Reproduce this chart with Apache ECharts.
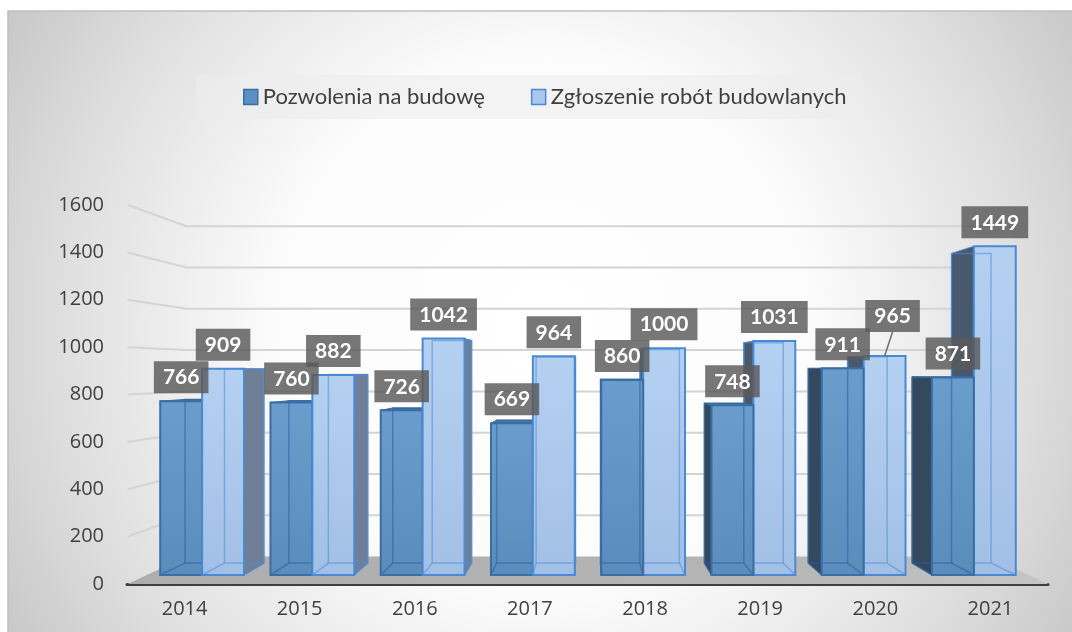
<!DOCTYPE html>
<html>
<head>
<meta charset="utf-8">
<script src="https://cdn.jsdelivr.net/npm/echarts@6/dist/echarts.min.js"></script>
<style>
  html, body { margin: 0; padding: 0; background: #fff; }
  #chart { width: 1072px; height: 632px; }
</style>
</head>
<body>
<div id="chart"></div>
<script>
var years = ['2014', '2015', '2016', '2017', '2018', '2019', '2020', '2021']
var pozwolenia = [766, 760, 726, 669, 860, 748, 911, 871]
var zgloszenia = [909, 882, 1042, 964, 1000, 1031, 965, 1449]
var yTicks = [0, 200, 400, 600, 800, 1000, 1200, 1400, 1600]
var seriesNames = ['Pozwolenia na budowę', 'Zgłoszenie robót budowlanych']

// fake 3d: everything is projected towards a vanishing point
var FRONT = 1.044 // plane of the axis labels
var DEPTH = 0.942 // back face of the bars
var WALL = 0.91 // back wall with gridlines
var BAR_RATIO = 0.38
var LABEL_GAP = 8
// label moved out of the way (series index -> data index -> [dx, dy])
var LABEL_NUDGE = { 1: { 6: [8, -16] } }

var PALETTE = [
  {
    front: ['#6a9ccc', '#5a8cbc'],
    edge: '#3a6ea5',
    inner: 'rgba(45, 95, 155, 0.55)',
    sideR: '#5a7291',
    sideL: '#34485e',
    top: '#4576a6'
  },
  {
    front: ['#b4d1f2', '#a2c0e5'],
    edge: '#4a8ad4',
    inner: 'rgba(80, 140, 215, 0.55)',
    sideR: '#6e7f96',
    sideL: '#48596e',
    top: '#88abd6'
  }
]

function vanish(cs) {
  return [cs.x + cs.width / 2, cs.y + cs.height * 0.435]
}

function project(p, vp, s) {
  return [vp[0] + (p[0] - vp[0]) * s, vp[1] + (p[1] - vp[1]) * s]
}

function renderGrid(params, api) {
  var cs = params.coordSys
  var vp = vanish(cs)
  var v = api.value(1)
  var y = api.coord([0, v])[1]
  var L = [cs.x, y]
  var R = [cs.x + cs.width, y]
  var fl = project(L, vp, FRONT)
  var bl = project(L, vp, WALL)
  var br = project(R, vp, WALL)
  if (v === 0) {
    var fr = project(R, vp, FRONT)
    return {
      type: 'polygon',
      shape: { points: [fl, bl, br, fr] },
      style: {
        fill: new echarts.graphic.LinearGradient(0, 0, 1, 0, [
          { offset: 0, color: '#adadad' },
          { offset: 0.7, color: '#b5b5b5' },
          { offset: 1, color: '#c6c6c6' }
        ])
      }
    }
  }
  return {
    type: 'polyline',
    shape: { points: [fl, bl, br] },
    style: { stroke: '#d4d4d4', lineWidth: 2, fill: null }
  }
}

function makeBarRenderer(k) {
  var pal = PALETTE[k]
  return function(params, api) {
    var cs = params.coordSys
    var vp = vanish(cs)
    var i = api.value(0)
    var v = api.value(1)
    var top = api.coord([i, v])
    var base = api.coord([i, 0])
    var w = api.size([1, 0])[0] * BAR_RATIO
    var x0 = k === 0 ? top[0] - w : top[0]
    var x1 = x0 + w
    var yt = top[1]
    var yb = base[1]
    var f = { tl: [x0, yt], tr: [x1, yt], br: [x1, yb], bl: [x0, yb] }
    var b = {
      tl: project(f.tl, vp, DEPTH),
      tr: project(f.tr, vp, DEPTH),
      br: project(f.br, vp, DEPTH),
      bl: project(f.bl, vp, DEPTH)
    }
    // nearer bar of the pair is drawn on top
    var zb = (top[0] < vp[0]) === (k === 1) ? 10 : 0
    var children = []

    if (x1 < vp[0]) {
      children.push({
        type: 'polygon',
        shape: { points: [f.tr, b.tr, b.br, f.br] },
        style: { fill: pal.sideR, stroke: pal.edge, lineWidth: 1 },
        z2: zb
      })
    }
    if (x0 > vp[0]) {
      children.push({
        type: 'polygon',
        shape: { points: [f.tl, b.tl, b.bl, f.bl] },
        style: { fill: pal.sideL, stroke: pal.edge, lineWidth: 1 },
        z2: zb
      })
    }
    if (yt > vp[1]) {
      children.push({
        type: 'polygon',
        shape: { points: [f.tl, f.tr, b.tr, b.tl] },
        style: { fill: pal.top, stroke: pal.edge, lineWidth: 1 },
        z2: zb + 1
      })
    }
    children.push({
      type: 'rect',
      shape: { x: x0, y: yt, width: w, height: yb - yt },
      style: {
        fill: new echarts.graphic.LinearGradient(0, 0, 0, 1, [
          { offset: 0, color: pal.front[0] },
          { offset: 1, color: pal.front[1] }
        ])
      },
      z2: zb + 2
    })
    // hidden edges seen through the glassy bar
    children.push({
      type: 'polygon',
      shape: { points: [b.tl, b.tr, b.br, b.bl] },
      style: { fill: null, stroke: pal.inner, lineWidth: 1.5 },
      z2: zb + 3
    })
    children.push({
      type: 'polyline',
      shape: { points: [f.bl, b.bl] },
      style: { fill: null, stroke: pal.inner, lineWidth: 1.5 },
      z2: zb + 3
    })
    children.push({
      type: 'polyline',
      shape: { points: [f.br, b.br] },
      style: { fill: null, stroke: pal.inner, lineWidth: 1.5 },
      z2: zb + 3
    })
    children.push({
      type: 'rect',
      shape: { x: x0, y: yt, width: w, height: yb - yt },
      style: { fill: null, stroke: pal.edge, lineWidth: 2 },
      z2: zb + 4
    })

    var nudge = (LABEL_NUDGE[k] && LABEL_NUDGE[k][params.dataIndex]) || [0, 0]
    var cx = (x0 + x1) / 2
    var ly = yt - LABEL_GAP + nudge[1]
    if (nudge[0] || nudge[1]) {
      children.push({
        type: 'line',
        shape: { x1: cx + nudge[0], y1: ly, x2: cx, y2: yt },
        style: { stroke: '#6f6f6f', lineWidth: 1.5 },
        z2: 99
      })
    }
    children.push({
      type: 'text',
      x: cx + nudge[0],
      y: ly,
      style: {
        text: String(v),
        fill: '#ffffff',
        fontSize: 21,
        fontWeight: 'bold',
        fontFamily: 'Lato',
        align: 'center',
        verticalAlign: 'bottom',
        backgroundColor: 'rgba(89, 89, 89, 0.82)',
        padding: [6, 9, 5, 9]
      },
      z2: 100 + (1 - k)
    })
    return { type: 'group', children: children }
  }
}

var chart = echarts.init(document.getElementById('chart'))

chart.setOption({
  backgroundColor: '#ffffff',
  animation: false,
  graphic: [
    {
      type: 'rect',
      z: -10,
      silent: true,
      shape: { x: 8, y: 11, width: 1070, height: 630 },
      style: {
        fill: new echarts.graphic.RadialGradient(0.5, 0.5, 1, [
          { offset: 0, color: '#ffffff' },
          { offset: 0.42, color: '#fcfcfc' },
          { offset: 0.75, color: '#e0e0e0' },
          { offset: 1, color: '#c6c6c6' }
        ]),
        stroke: '#c0c0c0',
        lineWidth: 1.5
      }
    }
  ],
  legend: {
    data: [
      {
        name: seriesNames[0],
        itemStyle: { color: '#5d90c2', borderColor: '#3a6ea5', borderWidth: 1.5 }
      },
      {
        name: seriesNames[1],
        itemStyle: { color: '#a9c8ec', borderColor: '#4a8ad4', borderWidth: 1.5 }
      }
    ],
    left: 196,
    top: 75,
    icon: 'rect',
    itemWidth: 14,
    itemHeight: 15,
    itemGap: 46,
    padding: [11, 15, 11, 47],
    backgroundColor: 'rgba(236, 236, 236, 0.6)',
    textStyle: { fontFamily: 'Lato', fontSize: 22, color: '#404040' }
  },
  grid: [
    { left: 127, right: 24, top: 205, bottom: 48, outerBoundsMode: 'none' },
    { left: 147, right: 43, top: 212, bottom: 57, outerBoundsMode: 'none' }
  ],
  xAxis: [
    {
      type: 'category',
      gridIndex: 0,
      data: years,
      axisTick: { show: false },
      axisLine: { lineStyle: { color: '#3f3f3f', width: 3 } },
      axisLabel: { color: '#404040', fontFamily: 'Open Sans', fontSize: 20, margin: 15 }
    },
    {
      type: 'category',
      gridIndex: 1,
      data: years,
      show: false
    }
  ],
  yAxis: [
    {
      type: 'value',
      gridIndex: 0,
      min: 0,
      max: 1600,
      interval: 200,
      splitLine: { show: false },
      axisLine: { show: false },
      axisTick: { show: false },
      axisLabel: {
        color: '#404040',
        fontFamily: 'Open Sans',
        fontSize: 20,
        margin: 23,
        formatter: function(v) { return String(v) }
      }
    },
    {
      type: 'value',
      gridIndex: 1,
      min: 0,
      max: 1600,
      interval: 200,
      show: false
    }
  ],
  series: [
    {
      name: 'siatka',
      type: 'custom',
      xAxisIndex: 1,
      yAxisIndex: 1,
      silent: true,
      z: 1,
      renderItem: renderGrid,
      data: yTicks.map(function(v) { return [0, v] })
    },
    {
      name: seriesNames[0],
      type: 'custom',
      xAxisIndex: 1,
      yAxisIndex: 1,
      z: 2,
      itemStyle: { color: '#5d90c2' },
      renderItem: makeBarRenderer(0),
      data: pozwolenia.map(function(v, i) { return [i, v] })
    },
    {
      name: seriesNames[1],
      type: 'custom',
      xAxisIndex: 1,
      yAxisIndex: 1,
      z: 2,
      itemStyle: { color: '#a9c8ec' },
      renderItem: makeBarRenderer(1),
      data: zgloszenia.map(function(v, i) { return [i, v] })
    }
  ]
})
</script>
</body>
</html>
